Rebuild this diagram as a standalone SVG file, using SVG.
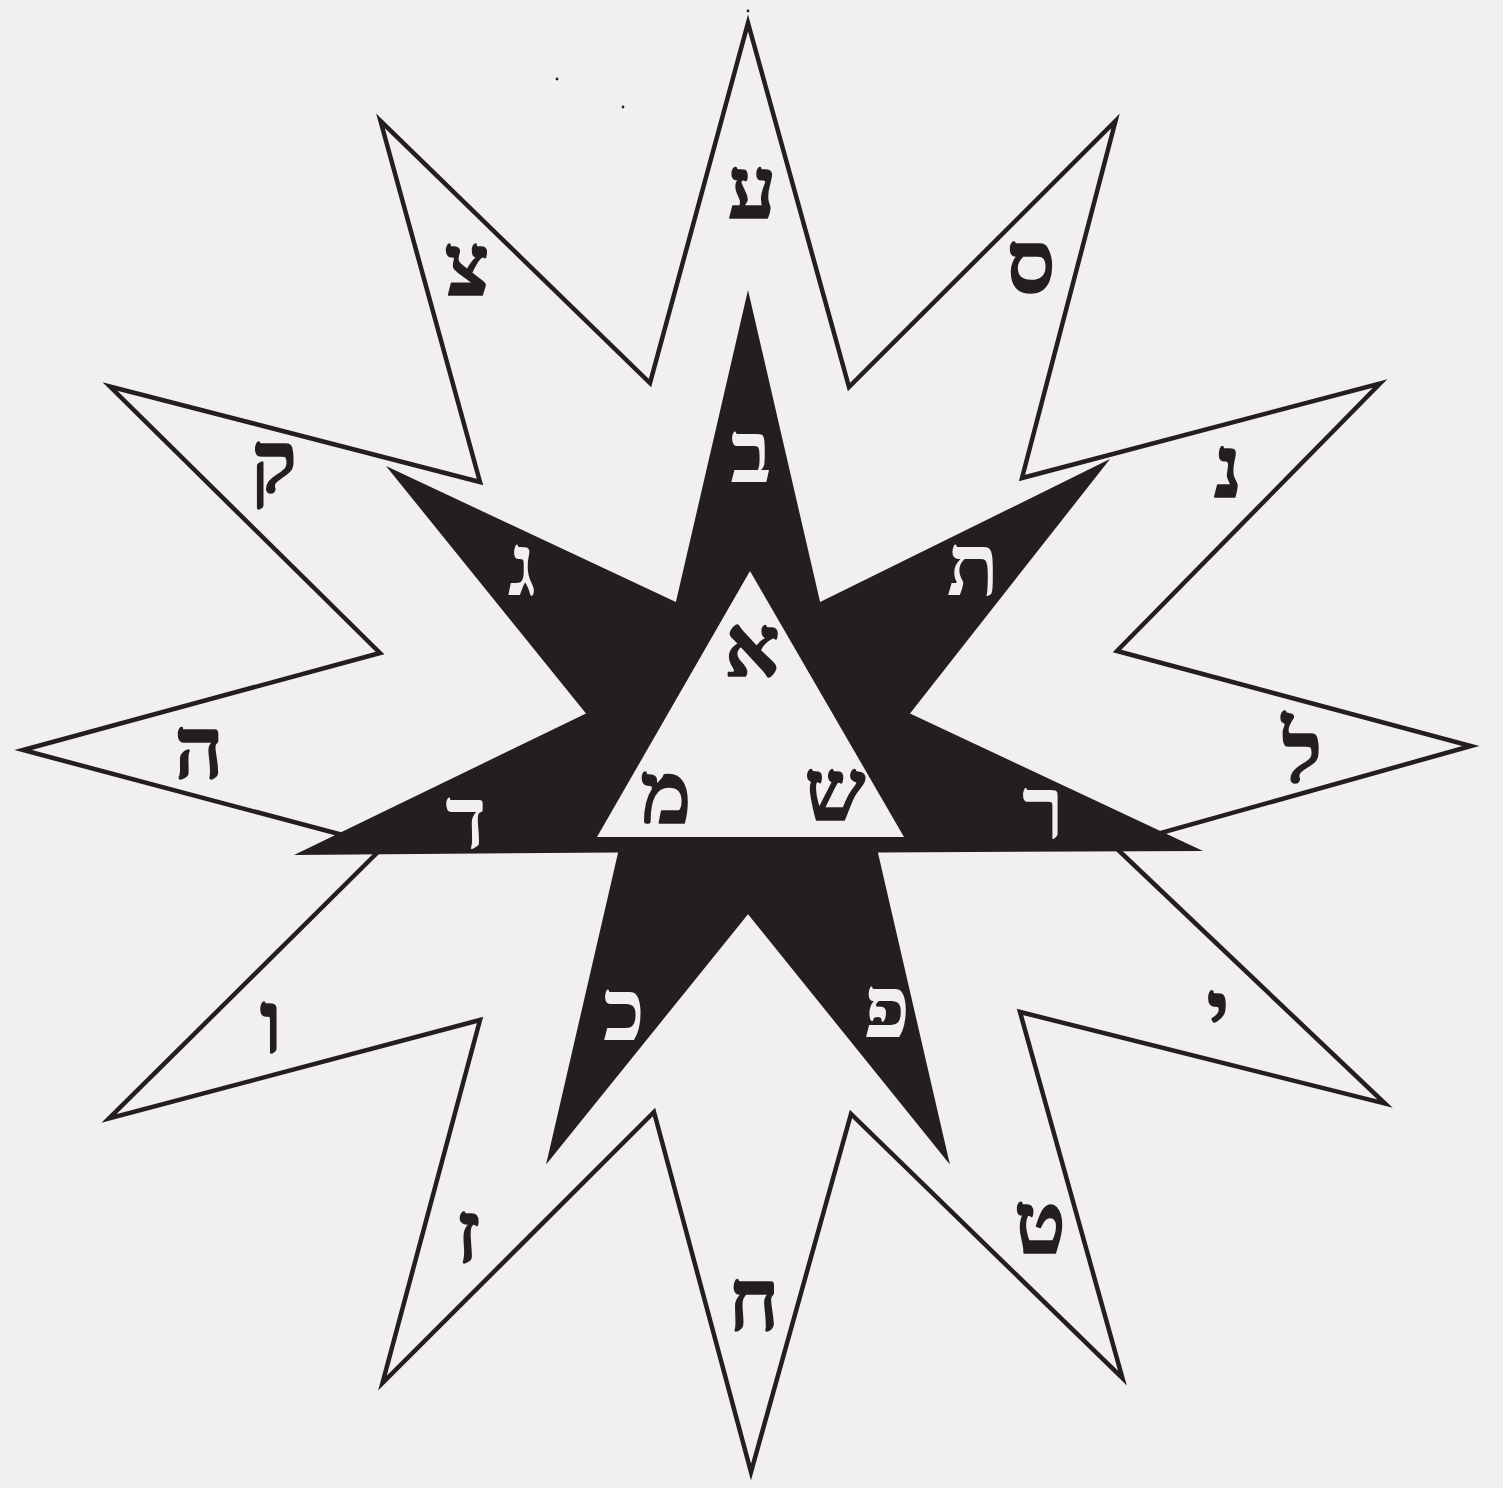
<svg xmlns="http://www.w3.org/2000/svg" width="1503" height="1488" viewBox="0 0 1503 1488">
  <style>
    .bg { fill: #f2f0ee; }
    .outline { fill: #f2f0ee; stroke: #231f20; stroke-width: 4.5; stroke-linejoin: miter; stroke-miterlimit: 6; }
    .solid { fill: #231f20; }
    .hole { fill: #f2f0ee; }
    .dot { fill: #231f20; }
    text { font-family: "Liberation Serif", "DejaVu Serif", "DejaVu Sans", serif; font-weight: bold; text-anchor: middle; font-size: 86px; }
    .dark { fill: #231f20; stroke: #231f20; stroke-width: 1.6; stroke-linejoin: round; }
    .light { fill: #f2f0ee; }
  </style>
  <rect class="bg" x="0" y="0" width="1503" height="1488"/>

  <g id="outer-star">
    <polygon class="outline" points="748,23 849,387 1115.5,121 1022,478 1380,383.5 1117,651 1471,746 1114,846 1385,1103.6 1020,1012 1122.4,1378 851,1114 751,1472 654,1112 382.5,1383 480,1020 109,1118.5 384,846 23,750 380,653 110,386.5 480,482 380.5,121 650,383"/>
  </g>

  <g id="heptagram">
    <polygon class="solid" points="748,290 820.1,602.1 1110,459 910,713.5 1203,851 877.9,852.4 949.9,1164.5 748,914.2 546.1,1164.5 618.1,852.4 294.1,855 586,713.5 386,466 675.9,602.1"/>
  </g>

  <g id="triangle">
    <polygon class="hole" points="750,571 904,837 597,837"/>
  </g>

  <g id="specks">
    <circle class="dot" cx="557" cy="79" r="1.4"/>
    <circle class="dot" cx="623" cy="107" r="1.4"/>
    <circle class="dot" cx="748" cy="11" r="1.4"/>
  </g>

  <g id="simple-letters">
    <text class="dark" x="752" y="218">ע</text>
    <text class="dark" x="1031" y="292">ס</text>
    <text class="dark" x="1228" y="497">נ</text>
    <text class="dark" x="1302" y="782">ל</text>
    <text class="dark" x="1218" y="1042">י</text>
    <text class="dark" x="1040" y="1253">ט</text>
    <text class="dark" x="754" y="1330">ח</text>
    <text class="dark" x="468" y="1262">ז</text>
    <text class="dark" x="271" y="1052">ו</text>
    <text class="dark" x="199" y="778">ה</text>
    <text class="dark" x="274" y="492">ק</text>
    <text class="dark" x="467" y="295">צ</text>
  </g>

  <g id="double-letters">
    <text class="light" x="751" y="482">ב</text>
    <text class="light" x="973" y="595">ת</text>
    <text class="light" x="1043" y="838">ר</text>
    <text class="light" x="887" y="1037">פ</text>
    <text class="light" x="624" y="1040">כ</text>
    <text class="light" x="466" y="848">ד</text>
    <text class="light" x="522" y="595">ג</text>
  </g>

  <g id="mother-letters">
    <text class="dark" x="752" y="676">א</text>
    <text class="dark" x="835" y="820">ש</text>
    <text class="dark" x="666" y="823">מ</text>
  </g>
</svg>
